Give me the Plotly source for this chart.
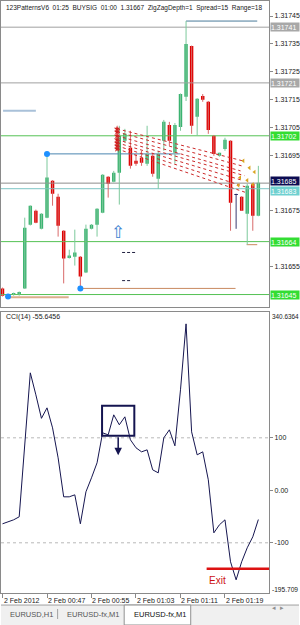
import plotly.graph_objects as go

# ---------------- data ----------------
bar_idx = list(range(47))
opens = [1.316472, 1.316446, 1.316452, 1.316454, 1.316472, 1.316701, 1.316751, 1.316686,
         1.316726, 1.316859, 1.316801, 1.316679, 1.316583, 1.316586, 1.316586, 1.316529,
         1.316686, 1.316701, 1.316744, 1.316873, 1.316855, 1.316887, 1.317002, 1.316977,
         1.316930, 1.316941, 1.316920, 1.316948, 1.316866, 1.317002, 1.317059, 1.316959,
         1.317052, 1.317160, 1.317342, 1.317088, 1.317163, 1.317142, 1.317020, 1.316948,
         1.316973, 1.317002, 1.316808, 1.316801, 1.316740, 1.316848, 1.316733]
highs = [1.316475, 1.316450, 1.316457, 1.316461, 1.316726, 1.316770, 1.316755, 1.316742,
         1.316955, 1.316861, 1.316812, 1.316681, 1.316611, 1.316683, 1.316588, 1.316701,
         1.316703, 1.316760, 1.316882, 1.316875, 1.316894, 1.317056, 1.317045, 1.317038,
         1.316955, 1.316966, 1.317056, 1.316959, 1.316966, 1.317077, 1.317070, 1.317066,
         1.317172, 1.317432, 1.317344, 1.317155, 1.317170, 1.317145, 1.317023, 1.316959,
         1.317013, 1.317004, 1.316812, 1.316803, 1.316848, 1.316851, 1.316912]
lows = [1.316443, 1.316439, 1.316446, 1.316446, 1.316470, 1.316698, 1.316706, 1.316684,
        1.316724, 1.316769, 1.316658, 1.316490, 1.316579, 1.316554, 1.316472, 1.316527,
        1.316684, 1.316658, 1.316742, 1.316798, 1.316853, 1.316773, 1.316995, 1.316902,
        1.316912, 1.316912, 1.316912, 1.316873, 1.316830, 1.316966, 1.316984, 1.316920,
        1.317038, 1.317145, 1.317027, 1.317020, 1.317142, 1.317027, 1.316948, 1.316945,
        1.316966, 1.316679, 1.316686, 1.316751, 1.316629, 1.316679, 1.316731]
closes = [1.316446, 1.316450, 1.316454, 1.316455, 1.316690, 1.316769, 1.316708, 1.316740,
          1.316870, 1.316812, 1.316697, 1.316579, 1.316590, 1.316601, 1.316515, 1.316686,
          1.316701, 1.316758, 1.316880, 1.316848, 1.316887, 1.317020, 1.317027, 1.316912,
          1.316920, 1.316923, 1.316955, 1.316884, 1.316955, 1.317070, 1.317002, 1.317059,
          1.317170, 1.317350, 1.317056, 1.317153, 1.317149, 1.317041, 1.316955, 1.316959,
          1.317006, 1.316780, 1.316808, 1.316751, 1.316841, 1.316733, 1.316851]
doji_color_idx = [42]

cci_values = [-63.8, -60.0, -56.2, -50.5, 86.7, 223.8, 181.9, 137.1, 157.1, 119.0,
              61.9, -12.4, -12.4, -8.6, -63.8, -2.9, 23.8, 52.4, 109.5, 105.7,
              143.8, 124.8, 140.0, 96.2, 81.0, 73.3, 77.1, 39.0, 33.3, 100.0,
              115.2, 84.8, 191.4, 317.1, 111.4, 67.6, 73.3, 20.0, -81.0, -65.7,
              -56.2, -136.2, -170.5, -136.2, -109.5, -88.6, -55.6456]

time_ticks = [0, 8, 16, 24, 32, 40]
time_labels = ["2 Feb 2012", "2 Feb 00:47", "2 Feb 00:55", "2 Feb 01:03", "2 Feb 01:11", "2 Feb 01:19"]

price_ticks = [1.31745, 1.31735, 1.31725, 1.31715, 1.31705, 1.31695, 1.31675, 1.31655]
price_range = [1.316407, 1.317504]
x_range = [-0.27, 47.95]

level_prices = [1.31741, 1.31721, 1.31702, 1.31685, 1.31683, 1.31664, 1.31645]
level_line_colors = ["#a0a0a0", "#a0a0a0", "#55c255", "#8c8c8c", "#7cc4c4", "#55c255", "#55c255"]
level_label_bg = ["#a8a8a8", "#a8a8a8", "#33dd33", "#0c0c52", "#6fd0d0", "#33dd33", "#33dd33"]
level_label_shift = [0, 0, 0, 2, -2, 0, 0]

# horizontal segments: start idx, end idx, price, color, width
seg_x0 = [8, 14, 1, 33, 0.1, 43.9]
seg_x1 = [31.9, 41.9, 11.9, 45.8, 6.0, 45.8]
seg_price = [1.316955, 1.316472, 1.316440, 1.317432, 1.317110, 1.316629]
seg_color = ["#4a86b0", "#c98a60", "#dcae8c", "#4a7a9a", "#a9c1d9", "#c98a60"]
seg_width = [1, 1, 2, 1, 2, 1]

swing_idx = [1, 8, 14]
swing_price = [1.316443, 1.316955, 1.316472]

dash_x0 = [21.5, 21.5]
dash_x1 = [24.2, 23.3]
dash_price = [1.316601, 1.316500]

pat_x0 = [20.6, 20.6, 20.6, 20.6, 20.6, 20.6, 20.6]
pat_y0 = [1.317045, 1.317034, 1.317020, 1.317006, 1.316995, 1.316984, 1.316973]
pat_x1 = [43.2, 43.0, 42.8, 43.5, 43.3, 43.6, 43.8]
pat_y1 = [1.316930, 1.316912, 1.316894, 1.316877, 1.316859, 1.316837, 1.316816]

arrow_idx = [20.8]
arrow_price = [1.316676]

gold_idx = [43.3, 44.4, 45.3, 42.7, 44.0, 45.0, 42.4]
gold_price = [1.316930, 1.316905, 1.316890, 1.316870, 1.316860, 1.316845, 1.316842]

box_x = [17.9, 23.7]
box_cci = [104, 161]
arrow_cci = [104, 67]
exit_x = [36.7, 47.95]
exit_cci = -149.5

# ---------------- figure ----------------
W, H = 300, 625
FONT = "Liberation Sans"
fig = go.Figure()

for p, c in zip(level_prices, level_line_colors):
    fig.add_trace(go.Scatter(x=x_range, y=[p, p], mode="lines", line=dict(color=c, width=1),
                             hoverinfo="skip", showlegend=False, xaxis="x", yaxis="y"))

for a, b, p, c, w in zip(seg_x0, seg_x1, seg_price, seg_color, seg_width):
    fig.add_trace(go.Scatter(x=[a, b], y=[p, p], mode="lines", line=dict(color=c, width=w),
                             hoverinfo="skip", showlegend=False, xaxis="x", yaxis="y"))

up_c, dn_c, doji_c = "#3cb371", "#e00000", "#1a1a5a"
colors = []
for i, (o, c) in enumerate(zip(opens, closes)):
    if i in doji_color_idx:
        colors.append(doji_c)
    elif c >= o:
        colors.append(up_c)
    else:
        colors.append(dn_c)

wick_col = {up_c: "#7cc99c", dn_c: "#d96a6a", doji_c: "#3a3a70"}
for col in [up_c, dn_c, doji_c]:
    wx, wy = [], []
    for i in bar_idx:
        if colors[i] == col:
            wx += [i, i, None]
            wy += [lows[i], highs[i], None]
    fig.add_trace(go.Scatter(x=wx, y=wy, mode="lines", line=dict(color=wick_col[col], width=1),
                             hoverinfo="skip", showlegend=False, xaxis="x", yaxis="y"))

body_h = [max(abs(c - o), 0.0000025) for o, c in zip(opens, closes)]
body_b = [min(o, c) for o, c in zip(opens, closes)]
fig.add_trace(go.Bar(x=bar_idx, y=body_h, base=body_b, width=0.62,
                     marker=dict(color=colors, line=dict(width=0)),
                     hoverinfo="skip", showlegend=False, xaxis="x", yaxis="y"))

for a, b, c, d in zip(pat_x0, pat_y0, pat_x1, pat_y1):
    fig.add_trace(go.Scatter(x=[a, c], y=[b, d], mode="lines",
                             line=dict(color="#cc2a2a", width=1, dash="dot"),
                             hoverinfo="skip", showlegend=False, xaxis="x", yaxis="y"))
fig.add_trace(go.Scatter(x=pat_x0, y=pat_y0, mode="markers",
                         marker=dict(symbol="star", size=5, color="#d02020"),
                         hoverinfo="skip", showlegend=False, xaxis="x", yaxis="y"))
fig.add_trace(go.Scatter(x=gold_idx, y=gold_price, mode="markers",
                         marker=dict(symbol="triangle-left", size=4, color="#d9a520"),
                         hoverinfo="skip", showlegend=False, xaxis="x", yaxis="y"))

for a, b, p in zip(dash_x0, dash_x1, dash_price):
    fig.add_trace(go.Scatter(x=[a, b], y=[p, p], mode="lines",
                             line=dict(color="#202040", width=1, dash="3px,2px"),
                             hoverinfo="skip", showlegend=False, xaxis="x", yaxis="y"))

fig.add_trace(go.Scatter(x=swing_idx, y=swing_price, mode="markers",
                         marker=dict(size=6, color="#1e90ff"),
                         hoverinfo="skip", showlegend=False, xaxis="x", yaxis="y"))

fig.add_trace(go.Scatter(x=bar_idx, y=cci_values, mode="lines",
                         line=dict(color="#161650", width=1),
                         hoverinfo="skip", showlegend=False, xaxis="x2", yaxis="y2"))

px_y = lambda py: 1 - py / H
px_x = lambda px: px / W

shapes = []
for v in [100, -100]:
    shapes.append(dict(type="line", xref="x2 domain", yref="y2", x0=0, x1=1, y0=v, y1=v,
                       line=dict(color="#b8b8b8", width=1, dash="dot"), layer="below"))
shapes.append(dict(type="rect", xref="x2", yref="y2", x0=box_x[0], x1=box_x[1],
                   y0=box_cci[0], y1=box_cci[1], line=dict(color="#141450", width=2)))
shapes.append(dict(type="line", xref="x2", yref="y2", x0=exit_x[0], x1=exit_x[1],
                   y0=exit_cci, y1=exit_cci, line=dict(color="#dd1111", width=2.5)))
shapes.append(dict(type="rect", xref="paper", yref="paper", x0=0, x1=1, y0=0, y1=px_y(605),
                   fillcolor="#f0f0f0", line=dict(width=0), layer="below"))
shapes.append(dict(type="line", xref="paper", yref="paper", x0=0, x1=1, y0=px_y(605), y1=px_y(605),
                   line=dict(color="#a0a0a0", width=1)))
shapes.append(dict(type="rect", xref="paper", yref="paper", x0=px_x(124), x1=px_x(191),
                   y0=px_y(625), y1=px_y(605), fillcolor="#ffffff",
                   line=dict(color="#909090", width=1)))
shapes.append(dict(type="line", xref="paper", yref="paper", x0=px_x(57), x1=px_x(57),
                   y0=px_y(609), y1=px_y(619), line=dict(color="#a0a0a0", width=1)))

annotations = []
annotations.append(dict(xref="paper", yref="paper", x=px_x(3), y=px_y(7), xanchor="left",
                        yanchor="middle", showarrow=False,
                        text="123PatternsV6  01:25  BUYSIG  01:00  1.31667  ZigZagDepth=1  Spread=15  Range=18",
                        font=dict(family=FONT, size=6.5, color="#202020")))
annotations.append(dict(xref="paper", yref="paper", x=px_x(3), y=px_y(317), xanchor="left",
                        yanchor="middle", showarrow=False, text="CCI(14) -55.6456",
                        font=dict(family=FONT, size=7, color="#202020")))
for p, bg, sh in zip(level_prices, level_label_bg, level_label_shift):
    annotations.append(dict(xref="paper", yref="y", x=px_x(271), y=p, xanchor="left",
                            yanchor="middle", showarrow=False, text=f"{p:.5f}",
                            bgcolor=bg, borderpad=0, yshift=sh, width=28, height=8, align="left",
                            font=dict(family=FONT, size=7, color="#ffffff")))
annotations.append(dict(xref="paper", yref="paper", x=px_x(271), y=px_y(316), xanchor="left",
                        yanchor="middle", showarrow=False, text="340.6364",
                        font=dict(family=FONT, size=6.4, color="#202020")))
annotations.append(dict(xref="paper", yref="paper", x=px_x(271), y=px_y(589), xanchor="left",
                        yanchor="middle", showarrow=False, text="-195.709",
                        font=dict(family=FONT, size=6.6, color="#202020")))
for t, lab in zip(time_ticks, time_labels):
    annotations.append(dict(xref="x2", yref="paper", x=t, y=px_y(600), xanchor="left",
                            yanchor="middle", showarrow=False, text=lab, xshift=-1,
                            font=dict(family=FONT, size=7, color="#202020")))
annotations.append(dict(xref="x", yref="y", x=arrow_idx[0], y=arrow_price[0], showarrow=False,
                        text="⇧", font=dict(family="DejaVu Sans", size=17, color="#3a80d0")))
annotations.append(dict(xref="x2", yref="y2", x=(box_x[0] + box_x[1]) / 2, y=arrow_cci[1],
                        ax=(box_x[0] + box_x[1]) / 2, ay=arrow_cci[0], axref="x2", ayref="y2",
                        showarrow=True, arrowhead=2, arrowsize=1, arrowwidth=1.5,
                        arrowcolor="#141450", text=""))
annotations.append(dict(xref="x2", yref="y2", x=38.6, y=-171, showarrow=False, text="Exit",
                        font=dict(family=FONT, size=10, color="#cc1111")))
for x, lab, col in [(7, "EURUSD,H1", "#555555"), (64, "EURUSD-fx,M1", "#555555"),
                    (132, "EURUSD-fx,M1", "#111111")]:
    annotations.append(dict(xref="paper", yref="paper", x=px_x(x), y=px_y(614), xanchor="left",
                            yanchor="middle", showarrow=False, text=lab,
                            font=dict(family=FONT, size=7.5, color=col)))
annotations.append(dict(xref="paper", yref="paper", x=px_x(287), y=px_y(614), showarrow=False,
                        text="◂  ▸", font=dict(family="DejaVu Sans", size=7, color="#909090")))

axis_line = "#8a8a8a"
fig.update_layout(
    width=W, height=H, margin=dict(l=0, r=0, t=0, b=0),
    paper_bgcolor="#ffffff", plot_bgcolor="#ffffff",
    barmode="overlay", showlegend=False,
    shapes=shapes, annotations=annotations,
    xaxis=dict(domain=[0, 270 / W], range=x_range, showgrid=False, zeroline=False,
               showticklabels=False, ticks="", showline=True, mirror=True,
               linecolor=axis_line, linewidth=1, anchor="y", fixedrange=True),
    yaxis=dict(domain=[1 - 306 / H, 1], range=price_range, side="right", showgrid=False,
               zeroline=False, tickvals=price_ticks, ticktext=[f"{v:.5f}" for v in price_ticks],
               ticks="outside", ticklen=3, tickcolor=axis_line, showline=True, mirror=True,
               linecolor=axis_line, linewidth=1, anchor="x",
               tickfont=dict(family=FONT, size=7, color="#202020"), fixedrange=True),
    xaxis2=dict(domain=[0, 270 / W], range=x_range, showgrid=False, zeroline=False,
                tickvals=time_ticks, showticklabels=False, ticks="outside", ticklen=4,
                tickcolor=axis_line, showline=True, mirror=True, linecolor=axis_line,
                linewidth=1, anchor="y2", fixedrange=True),
    yaxis2=dict(domain=[1 - 593 / H, 1 - 311 / H], range=[-195.709, 340.6364], side="right",
                showgrid=False, zeroline=False, tickvals=[100, 0, -100],
                ticktext=["100", "0.00", "-100"], ticks="outside", ticklen=3,
                tickcolor=axis_line, showline=True, mirror=True, linecolor=axis_line,
                linewidth=1, anchor="x2",
                tickfont=dict(family=FONT, size=7, color="#202020"), fixedrange=True),
)

fig.write_html("out.html", config={"displayModeBar": False})
